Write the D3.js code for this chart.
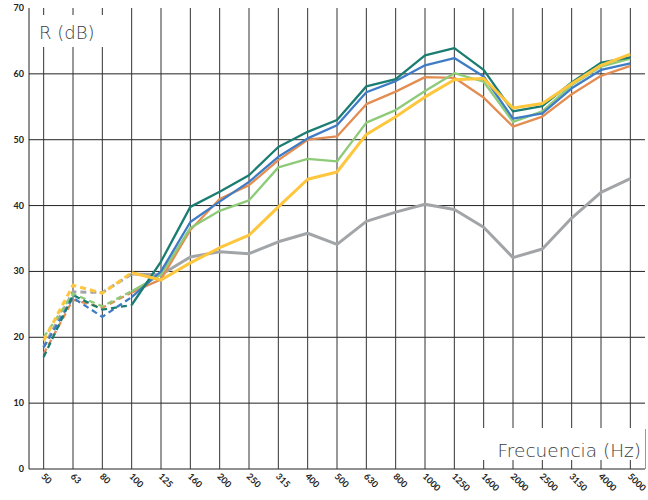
<!DOCTYPE html>
<html>
<head>
<meta charset="utf-8">
<script src="https://cdn.jsdelivr.net/npm/d3@7"></script>
<style>
  body { margin: 0; background: #fff; }
  svg text { font-family: "Lato", "DejaVu Sans", sans-serif; }
  svg text.axis-title { font-family: "DejaVu Sans", sans-serif; font-weight: 200; }
</style>
</head>
<body>
<div id="chart"></div>
<script>
// frequencies (Hz)
var freqs = ["50","63","80","100","125","160","200","250","315","400","500","630","800","1000","1250","1600","2000","2500","3150","4000","5000"];
var yTicks = [0, 10, 20, 30, 40, 50, 60, 70];

var grayVals   = [18.5, 26.9, 26.8, 29.6, 29.5, 32.2, 33.0, 32.7, 34.5, 35.8, 34.1, 37.6, 39.0, 40.2, 39.4, 36.7, 32.1, 33.4, 38.1, 42.0, 44.1];
var orangeVals = [17.5, 25.7, 24.5, 26.8, 28.8, 36.3, 41.0, 43.1, 46.9, 50.0, 50.5, 55.4, 57.3, 59.5, 59.4, 56.4, 52.0, 53.5, 56.9, 59.7, 61.2];
var greenVals  = [20.0, 26.6, 24.7, 27.0, 29.5, 36.6, 39.2, 40.8, 45.8, 47.1, 46.7, 52.6, 54.5, 57.4, 60.1, 58.8, 52.7, 54.3, 58.3, 61.1, 62.3];
var blueVals   = [18.5, 26.0, 23.1, 26.1, 30.0, 37.5, 40.6, 43.6, 47.4, 50.2, 52.2, 57.2, 58.9, 61.3, 62.4, 59.6, 53.2, 54.0, 57.8, 60.6, 61.6];
var tealVals   = [17.0, 26.4, 24.2, 24.9, 31.5, 39.8, 42.1, 44.6, 48.9, 51.2, 53.0, 58.1, 59.2, 62.8, 63.9, 60.6, 54.3, 55.1, 58.7, 61.7, 62.5];
var yellowVals = [19.5, 27.9, 26.7, 29.8, 28.7, 31.3, 33.6, 35.5, 39.8, 44.0, 45.1, 50.8, 53.5, 56.5, 59.1, 59.3, 54.8, 55.5, 58.5, 61.3, 63.0];

var series = [
  { vals: grayVals,   color: "#a2a5a8", w: 3 },
  { vals: orangeVals, color: "#e38d52", w: 2.3 },
  { vals: greenVals,  color: "#8dcb78", w: 2.3 },
  { vals: blueVals,   color: "#3f7cc6", w: 2.3 },
  { vals: tealVals,   color: "#1b7d72", w: 2.3 },
  { vals: yellowVals, color: "#fec63c", w: 3 }
];
var dashEnd = 3; // first points up to 100 Hz are dashed

var svgWidth = 648;
var svgHeight = 500;
var margin = { top: 8, right: 3, bottom: 31, left: 29 };
var width = svgWidth - margin.left - margin.right;
var height = svgHeight - margin.top - margin.bottom;

var svg = d3.select("#chart").append("svg")
  .attr("width", svgWidth)
  .attr("height", svgHeight);

var g = svg.append("g")
  .attr("transform", `translate(${margin.left}, ${margin.top})`);

var x = d3.scalePoint().domain(freqs).range([0, width]).padding(0.5);
var y = d3.scaleLinear().domain([0, 70]).range([height, 0]);

// horizontal grid
g.selectAll(".hgrid").data(yTicks.filter(d => d < 70)).enter()
  .append("line")
  .attr("x1", 0).attr("x2", width)
  .attr("y1", d => y(d)).attr("y2", d => y(d))
  .attr("stroke", "#222").attr("stroke-width", 1);

// vertical grid
g.selectAll(".vgrid").data(freqs).enter()
  .append("line")
  .attr("x1", d => x(d)).attr("x2", d => x(d))
  .attr("y1", 0).attr("y2", height)
  .attr("stroke", "#333").attr("stroke-width", 1);

// left axis line and right border
g.append("line").attr("x1", 0).attr("x2", 0).attr("y1", 0).attr("y2", height)
  .attr("stroke", "#222");
g.append("line").attr("x1", width + 0.5).attr("x2", width + 0.5).attr("y1", height - 40).attr("y2", height)
  .attr("stroke", "#999");

// axis label boxes
g.append("rect").attr("x", 6).attr("y", 7).attr("width", 76).attr("height", 32).attr("fill", "#fff");
g.append("text").attr("class", "axis-title").attr("x", 10).attr("y", 31).attr("font-size", 18).attr("fill", "#3a3a3a")
  .text("R (dB)");

g.append("rect").attr("x", 443).attr("y", 420).attr("width", width - 443).attr("height", 32).attr("fill", "#fff");
g.append("text").attr("class", "axis-title").attr("x", width - 4).attr("y", 449).attr("text-anchor", "end")
  .attr("font-size", 18.5).attr("fill", "#3a3a3a").text("Frecuencia (Hz)");

// y tick labels
g.selectAll(".ylab").data(yTicks).enter()
  .append("text")
  .attr("x", -5).attr("y", d => y(d) + 3)
  .attr("text-anchor", "end")
  .attr("font-size", 9).attr("font-weight", "bold").attr("fill", "#222")
  .text(d => d);

// x tick labels
g.selectAll(".xlab").data(freqs).enter()
  .append("text")
  .attr("transform", d => `translate(${x(d) - 3}, ${height + 8}) rotate(45)`)
  .attr("font-size", 9).attr("font-weight", "bold").attr("fill", "#222")
  .text(d => d);

var line = d3.line()
  .x((d, i) => x(freqs[d.i]))
  .y(d => y(d.v));

series.forEach(function(s) {
  var pts = s.vals.map((v, i) => ({ v: v, i: i }));
  g.append("path")
    .datum(pts.slice(0, dashEnd + 1))
    .attr("d", line)
    .attr("fill", "none")
    .attr("stroke", s.color)
    .attr("stroke-width", s.w)
    .attr("stroke-dasharray", "6,4");
  g.append("path")
    .datum(pts.slice(dashEnd))
    .attr("d", line)
    .attr("fill", "none")
    .attr("stroke", s.color)
    .attr("stroke-width", s.w)
    .attr("stroke-linejoin", "round");
});
</script>
</body>
</html>
